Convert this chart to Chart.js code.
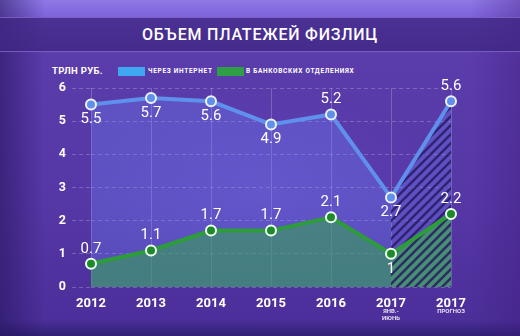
<!DOCTYPE html>
<html>
<head>
<meta charset="utf-8">
<script src="https://cdn.jsdelivr.net/npm/chart.js@4.4.0/dist/chart.umd.min.js"></script>
<style>
html, body { margin: 0; padding: 0; }
body {
  width: 520px; height: 336px; overflow: hidden; position: relative;
  font-family: Roboto, sans-serif;
  background:
    radial-gradient(ellipse 260px 140px at 260px 190px, rgba(110, 80, 210, 0.35), rgba(0, 0, 0, 0) 70%),
    linear-gradient(90deg, rgba(35, 20, 90, 0.55) 0, rgba(35, 20, 90, 0) 45px, rgba(0, 0, 0, 0) 470px, rgba(60, 25, 120, 0.35) 520px),
    linear-gradient(180deg, #8f78e6 0, #7e62da 17px, #5b3cab 55px, #5637a6 200px, #4c2f9a 320px, #2f1f72 336px);
}
#band {
  position: absolute; left: 0; top: 17px; width: 520px; height: 33px;
  background: rgba(62, 38, 130, 0.8);
  border-top: 1px solid rgba(180, 150, 255, 0.45);
  border-bottom: 1px solid rgba(180, 150, 255, 0.45);
}
#title {
  position: absolute; left: 0; top: 18px; width: 520px; height: 33px; line-height: 33px;
  text-align: center; color: #fff; font-size: 16px; font-weight: 500; letter-spacing: 0.8px;
}
#unit { position: absolute; left: 52px; top: 65px; font-size: 9.5px; font-weight: 700; color: #fff; line-height: 12px; letter-spacing: 0.3px; }
.lg { position: absolute; top: 67px; width: 27px; height: 9px; }
.lt { position: absolute; top: 67px; font-size: 6.5px; font-weight: 700; color: #fff; line-height: 9px; white-space: nowrap; letter-spacing: 0.7px; }
canvas { position: absolute; left: 0; top: 0; }
</style>
</head>
<body>
<div id="band"></div>
<div id="title">ОБЪЕМ ПЛАТЕЖЕЙ ФИЗЛИЦ</div>
<div id="unit">ТРЛН РУБ.</div>
<div id="legend"></div>
<canvas id="myChart" width="520" height="336"></canvas>
<script>
// data
const categories = ["2012", "2013", "2014", "2015", "2016", "2017", "2017"];
const subLabels = [[], [], [], [], [], ["ЯНВ.-", "ИЮНЬ"], ["ПРОГНОЗ"]];
const seriesNames = ["ЧЕРЕЗ ИНТЕРНЕТ", "В БАНКОВСКИХ ОТДЕЛЕНИЯХ"];
const internet = [5.5, 5.7, 5.6, 4.9, 5.2, 2.7, 5.6];
const branches = [0.7, 1.1, 1.7, 1.7, 2.1, 1, 2.2];
const yTicks = [0, 1, 2, 3, 4, 5, 6];

// which side of the point each value label sits on
const internetLabelSide = [1, 1, 1, 1, -1, 1, -1];
const branchesLabelSide = [-1, -1, -1, -1, -1, 1, -1];

const forecastFrom = 5;

// legend
let legend = document.getElementById("legend");
let legendX = [[118, 148], [217, 246]];
let legendColors = ["#3fa6f2", "#2f9f45"];
for (let i = 0; i < seriesNames.length; i++) {
    let box = document.createElement("div");
    box.className = "lg";
    box.style.left = legendX[i][0] + "px";
    box.style.background = legendColors[i];
    legend.appendChild(box);
    let t = document.createElement("div");
    t.className = "lt";
    t.style.left = legendX[i][1] + "px";
    t.textContent = seriesNames[i];
    legend.appendChild(t);
}

function hatch(base) {
    let c = document.createElement("canvas");
    c.width = 9;
    c.height = 9;
    let g = c.getContext("2d");
    g.fillStyle = base;
    g.fillRect(0, 0, 9, 9);
    g.strokeStyle = "rgba(40, 22, 95, 0.8)";
    g.lineWidth = 2.5;
    g.beginPath();
    g.moveTo(-1, 10); g.lineTo(10, -1);
    g.moveTo(-1, 1); g.lineTo(1, -1);
    g.moveTo(8, 10); g.lineTo(10, 8);
    g.stroke();
    return g.createPattern(c, "repeat");
}

const blueFill = "rgba(110, 140, 255, 0.3)";
const greenFill = "rgba(55, 165, 80, 0.55)";
const blueHatch = hatch(blueFill);
const greenHatch = hatch("rgba(70, 150, 110, 0.9)");

const valueLabels = {
    id: "valueLabels",
    afterDatasetsDraw(chart) {
        let c = chart.ctx;
        c.save();
        c.fillStyle = "#fff";
        c.font = "400 15px Roboto";
        c.textAlign = "center";
        c.textBaseline = "middle";
        chart.data.datasets.forEach((ds, di) => {
            let sides = di == 0 ? internetLabelSide : branchesLabelSide;
            chart.getDatasetMeta(di).data.forEach((pt, i) => {
                c.fillText(String(ds.data[i]), pt.x, pt.y + sides[i] * 15);
            });
        });
        c.restore();
    }
};

const subTicks = {
    id: "subTicks",
    afterDraw(chart) {
        let c = chart.ctx;
        let x = chart.scales.x;
        c.save();
        c.fillStyle = "rgba(255, 255, 255, 0.85)";
        c.font = "700 6px Roboto";
        c.textAlign = "center";
        c.textBaseline = "middle";
        for (let i = 0; i < subLabels.length; i++) {
            for (let j = 0; j < subLabels[i].length; j++) {
                c.fillText(subLabels[i][j], x.getPixelForValue(i), 311 + j * 7);
            }
        }
        c.restore();
    }
};

const ctx = document.getElementById("myChart").getContext("2d");
const myChart = new Chart(ctx, {
    type: "line",
    data: {
        labels: categories,
        datasets: [{
                label: seriesNames[0],
                data: internet,
                order: 1,
                borderColor: "#5f90ec",
                borderWidth: 4,
                backgroundColor: blueFill,
                fill: "origin",
                pointRadius: 5,
                pointBorderWidth: 2,
                pointBackgroundColor: "#5f90ec",
                pointBorderColor: "#eef2ff",
                segment: {
                    backgroundColor: (s) => s.p0DataIndex >= forecastFrom ? blueHatch : undefined,
                },
            },
            {
                label: seriesNames[1],
                data: branches,
                order: 0,
                borderColor: "#2d9c3a",
                borderWidth: 4,
                backgroundColor: greenFill,
                fill: "origin",
                pointRadius: 5,
                pointBorderWidth: 2,
                pointBackgroundColor: "#1f8a2c",
                pointBorderColor: "#eefff0",
                segment: {
                    backgroundColor: (s) => s.p0DataIndex >= forecastFrom ? greenHatch : undefined,
                },
            },
        ],
    },
    options: {
        responsive: false,
        animation: false,
        layout: { padding: { top: 88, right: 69, left: 0, bottom: 0 } },
        plugins: {
            legend: { display: false },
            tooltip: { enabled: false },
        },
        scales: {
            x: {
                grid: { color: "rgba(255, 255, 255, 0.2)", drawTicks: false },
                border: { display: false },
                ticks: {
                    color: "#fff",
                    font: { family: "Roboto", size: 13, weight: "bold" },
                    padding: 9,
                    maxRotation: 0,
                    autoSkip: false,
                },
                afterFit(s) { s.height = 49; },
            },
            y: {
                min: yTicks[0],
                max: yTicks[yTicks.length - 1],
                afterBuildTicks(s) { s.ticks = yTicks.map((v) => ({ value: v })); },
                ticks: {
                    color: "#fff",
                    font: { family: "Roboto", size: 12.5, weight: "bold" },
                    padding: 6,
                },
                grid: {
                    color: "rgba(255, 255, 255, 0.22)",
                    tickLength: 19,
                    tickColor: "rgba(255, 255, 255, 0.22)",
                    tickBorderDash: [4, 3],
                },
                border: { display: false, dash: [4, 3] },
                afterFit(s) { s.width = 91; },
            },
        },
    },
    plugins: [valueLabels, subTicks],
});
</script>
</body>
</html>
